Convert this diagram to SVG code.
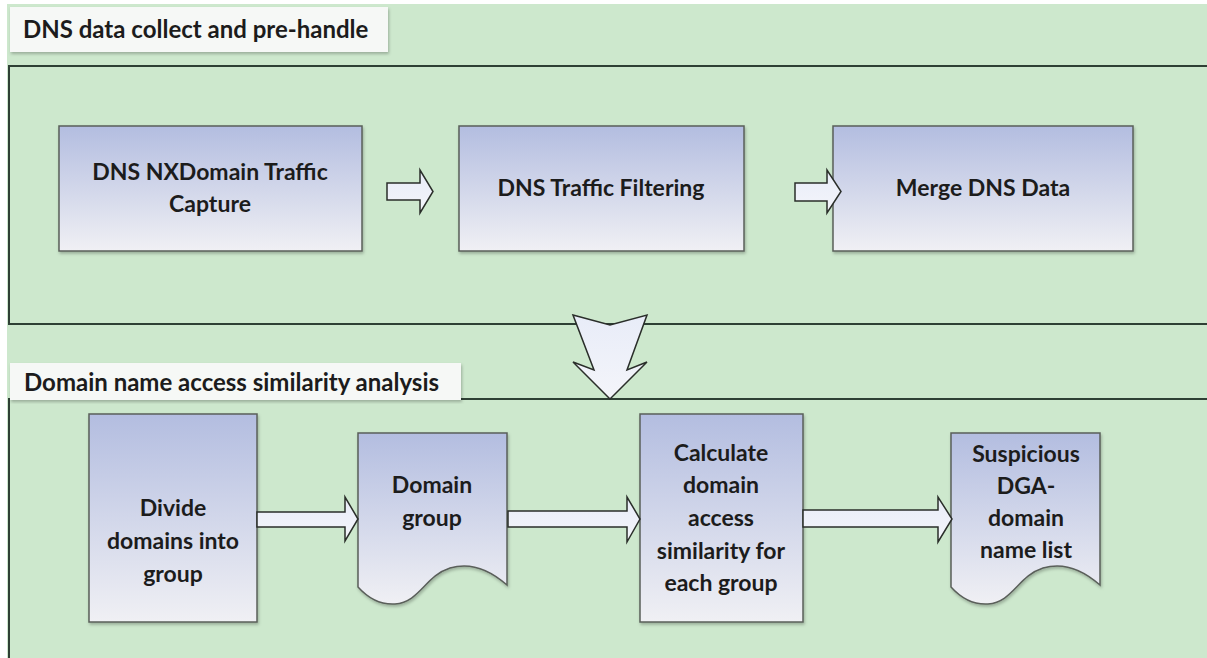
<svg xmlns="http://www.w3.org/2000/svg" width="1207" height="658" viewBox="0 0 1207 658">
<defs>
<linearGradient id="nodeGrad" x1="0" y1="0" x2="0" y2="1">
<stop offset="0" stop-color="#b3bde0"/>
<stop offset="1" stop-color="#f0f0f4"/>
</linearGradient>
<linearGradient id="arrowGrad" x1="0" y1="0" x2="0" y2="1">
<stop offset="0" stop-color="#e8ecf8"/>
<stop offset="1" stop-color="#f4f5fa"/>
</linearGradient>
<filter id="shadow" x="-5%" y="-5%" width="115%" height="115%">
<feDropShadow dx="1" dy="2" stdDeviation="1.5" flood-color="#000" flood-opacity="0.25"/>
</filter>
</defs>
<style>
.bg{fill:#cde8cd}
.panel{fill:none;stroke:#2e4034;stroke-width:2}
.label{fill:#f6f8f6;filter:url(#shadow)}
.ltxt{font-family:Lato,"Liberation Sans",sans-serif;font-weight:700;font-size:24px;fill:#1c1c1c}
.node{fill:url(#nodeGrad);stroke:#5a5f5a;stroke-width:1.5;filter:url(#shadow)}
.ntxt{font-family:Lato,"Liberation Sans",sans-serif;font-weight:700;font-size:23px;fill:#1c1c1c;text-anchor:middle}
.arr{fill:url(#arrowGrad);stroke:#2a2e2a;stroke-width:1.5;stroke-linejoin:miter}
</style>
<rect class="bg" x="7" y="4" width="1200" height="654"/>
<rect class="panel" x="9" y="66" width="1210" height="258"/>
<path class="panel" d="M1207,399 H9 V658"/>
<g id="label-top">
<rect class="label" x="10" y="7" width="378" height="45"/>
<text class="ltxt" x="23" y="38">DNS data collect and pre-handle</text>
</g>
<g id="label-bottom">
<rect class="label" x="10" y="363" width="451" height="37"/>
<text class="ltxt" x="24" y="391">Domain name access similarity analysis</text>
</g>
<g id="node-capture">
<rect class="node" x="59" y="126" width="303" height="125"/>
<text class="ntxt" x="210" y="180">DNS NXDomain Traffic</text>
<text class="ntxt" x="210" y="212">Capture</text>
</g>
<g id="node-filter">
<rect class="node" x="459" y="126" width="285" height="125"/>
<text class="ntxt" x="601" y="196">DNS Traffic Filtering</text>
</g>
<g id="node-merge">
<rect class="node" x="833" y="126" width="300" height="125"/>
<text class="ntxt" x="983" y="196">Merge DNS Data</text>
</g>
<g id="node-divide">
<rect class="node" x="89" y="414" width="168" height="208"/>
<text class="ntxt" x="173" y="516">Divide</text>
<text class="ntxt" x="173" y="549">domains into</text>
<text class="ntxt" x="173" y="582">group</text>
</g>
<g id="node-group">
<path class="node" d="M358,433 H507 V585 C490,570 470,562 450,568 C425,576 420,602 395,604 C380,605 368,598 358,587 Z"/>
<text class="ntxt" x="432" y="493">Domain</text>
<text class="ntxt" x="432" y="526">group</text>
</g>
<g id="node-calc">
<rect class="node" x="640" y="414" width="163" height="208"/>
<text class="ntxt" x="721" y="461">Calculate</text>
<text class="ntxt" x="721" y="493">domain</text>
<text class="ntxt" x="721" y="526">access</text>
<text class="ntxt" x="721" y="559">similarity for</text>
<text class="ntxt" x="721" y="591">each group</text>
</g>
<g id="node-list">
<path class="node" d="M951,433 H1100 V585 C1083,570 1063,562 1043,568 C1018,576 1013,602 988,604 C973,605 961,598 951,587 Z"/>
<text class="ntxt" x="1026" y="462">Suspicious</text>
<text class="ntxt" x="1026" y="494">DGA-</text>
<text class="ntxt" x="1026" y="526">domain</text>
<text class="ntxt" x="1026" y="558">name list</text>
</g>
<g id="connectors">
<path class="arr" d="M387,183 H420 V170 L433,191.5 L420,213 V200 H387 Z"/>
<path class="arr" d="M795,183 H827 V170 L841,191.5 L827,213 V201 H795 Z"/>
<path class="arr" d="M573,315 L610,325 L647,315 L627,370 L647,362 L610,399 L573,362 L594,370 Z"/>
<path class="arr" d="M257,512 H345 V497 L358,519 L345,541 V527 H257 Z"/>
<path class="arr" d="M508,511 H627 V497 L640,519 L627,542 V527 H508 Z"/>
<path class="arr" d="M803,510 H938 V497 L952,519 L938,542 V527 H803 Z"/>
</g>
</svg>
